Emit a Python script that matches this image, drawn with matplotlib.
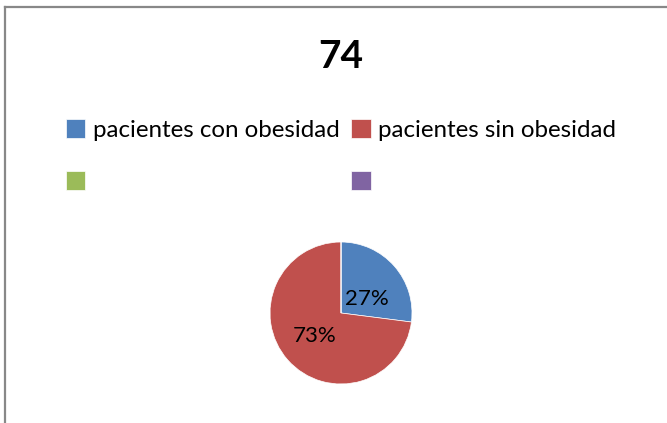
import matplotlib
matplotlib.use("Agg")
import matplotlib.pyplot as plt
from matplotlib.lines import Line2D

# data
titulo = "74"
etiquetas = ["pacientes con obesidad", "pacientes sin obesidad", "", ""]
valores = [20, 54, 0, 0]
colores = ["#4F81BD", "#C0504D", "#9BBB59", "#8064A2"]

plt.rcParams['font.family'] = ['Lato', 'DejaVu Sans']

W, H = 667, 423
fig = plt.figure(figsize=(W / 100, H / 100), dpi=100)
fig.patch.set_facecolor("white")

# chart border (only top and left visible in the crop)
fig.add_artist(Line2D([5 / W, 1], [1 - 7 / H, 1 - 7 / H], color="#888888", lw=1.6))
fig.add_artist(Line2D([5 / W, 5 / W], [0, 1 - 7 / H], color="#888888", lw=1.6))

# pie centred at (341, 313) px, radius 71 px
cx, cy, r = 341, 313, 71
ax = fig.add_axes([(cx - r) / W, (H - cy - r) / H, 2 * r / W, 2 * r / H])


def pct(p):
    return "%d%%" % round(p) if p > 0 else ""


wedges, textos, autotextos = ax.pie(valores, colors=colores, startangle=90,
                                    counterclock=False, autopct=pct,
                                    pctdistance=0.5,
                                    wedgeprops=dict(edgecolor="white", linewidth=0.5),
                                    textprops=dict(fontsize=16, color="black"))
ax.set_xlim(-1, 1)
ax.set_ylim(-1, 1)
ax.set_aspect("equal")
autotextos[0].set_position((0.36, 0.2))

fig.text(cx / W, 1 - 57 / H, titulo, ha="center", va="center",
         fontsize=28, fontweight="bold")

# legend filled row by row like Excel: reorder for column-first layout
orden = [0, 2, 1, 3]
fig.legend([wedges[i] for i in orden], [etiquetas[i] for i in orden],
           ncol=2, loc="center",
           bbox_to_anchor=(341 / W, 1 - 156 / H), frameon=False,
           fontsize=17.4, handlelength=0.8, handleheight=0.8,
           handletextpad=0.3, columnspacing=0.5, labelspacing=1.25,
           borderpad=0)

fig.savefig("out.png", dpi=100, facecolor="white")
